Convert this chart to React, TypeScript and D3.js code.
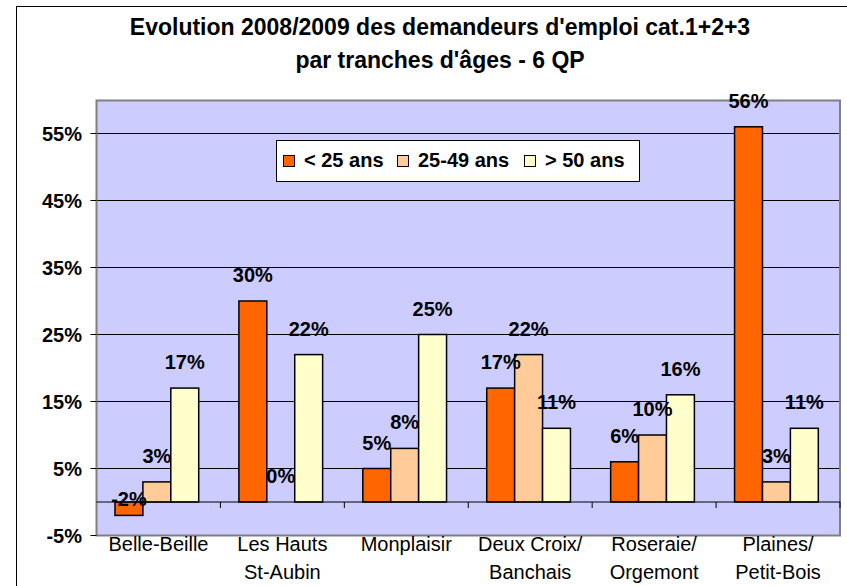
import { scaleBand, scaleLinear } from "d3";

const categories = [
    ["Belle-Beille"],
    ["Les Hauts", "St-Aubin"],
    ["Monplaisir"],
    ["Deux Croix/", "Banchais"],
    ["Roseraie/", "Orgemont"],
    ["Plaines/", "Petit-Bois"],
];
const seriesNames = ["< 25 ans", "25-49 ans", "> 50 ans"];
const under25 = [-2, 30, 5, 17, 6, 56];
const from25to49 = [3, 0, 8, 22, 10, 3];
const over50 = [17, 22, 25, 11, 16, 11];
const yTicks = [-5, 5, 15, 25, 35, 45, 55];
const titleLines = [
    "Evolution 2008/2009 des demandeurs d'emploi cat.1+2+3",
    "par tranches d'âges - 6 QP",
];

const COLORS = ["#FF6600", "#FFCC99", "#FFFFCC"];
const FONT = "'Liberation Sans', Arial, sans-serif";

export default function App() {
    const width = 847;
    const height = 586;
    const left = 96.5;
    const right = 840;
    const top = 100.5;
    const bottom = 535.5;

    const series = [under25, from25to49, over50];
    const keys = categories.map((c) => c.join(" "));

    const x = scaleBand().domain(keys).range([left, right]).padding(0);
    const inner = scaleBand()
        .domain(seriesNames)
        .range([0, x.bandwidth()])
        .paddingInner(0)
        .paddingOuter(0.72)
        .align(0.46);
    const y = scaleLinear().domain([-5, 60]).range([bottom, top - 0.5]);

    // legend item offsets from the first swatch
    const legendOffsets = [0, 114, 241];

    return (
        <div style={{ position: "absolute", left: 0, top: 0 }}>
            <svg width={width} height={height} style={{ display: "block", fontFamily: FONT }}>
                <rect x={0} y={0} width={width} height={height} fill="#fff" />
                {/* chart border, runs off the picture on the right and bottom */}
                <rect x={16.5} y={6.5} width={1000} height={1000} fill="none" stroke="#000" strokeWidth={1} />

                {/* title */}
                {titleLines.map((t, i) => (
                    <text
                        key={i}
                        x={440}
                        y={35 + i * 33}
                        textAnchor="middle"
                        fontSize={23}
                        fontWeight="bold"
                        fill="#000"
                    >
                        {t}
                    </text>
                ))}

                {/* plot area */}
                <rect x={left} y={top} width={right - left} height={bottom - top} fill="#CCCCFF" />
                {yTicks.slice(1).map((t) => (
                    <line key={t} x1={left} x2={right} y1={y(t)} y2={y(t)} stroke="#000" strokeWidth={1} />
                ))}
                <rect x={left} y={top} width={right - left} height={bottom - top} fill="none" stroke="#808080" strokeWidth={2} />

                {/* y axis ticks + labels */}
                {yTicks.map((t) => (
                    <g key={t}>
                        <line x1={left - 6} x2={left} y1={y(t)} y2={y(t)} stroke="#000" strokeWidth={1} />
                        <text x={82} y={y(t) + 7} textAnchor="end" fontSize={20} fontWeight="bold">
                            {t}%
                        </text>
                    </g>
                ))}

                {/* bars */}
                {series.map((vals, si) =>
                    vals.map((v, ci) => {
                        const bx = (x(keys[ci]) ?? 0) + (inner(seriesNames[si]) ?? 0);
                        const y0 = y(0);
                        const y1 = y(v);
                        return (
                            <rect
                                key={`${si}-${ci}`}
                                x={bx}
                                y={Math.min(y0, y1)}
                                width={inner.bandwidth()}
                                height={Math.abs(y1 - y0)}
                                fill={COLORS[si]}
                                stroke="#000"
                                strokeWidth={1.5}
                            />
                        );
                    }),
                )}

                {/* x axis line at 0 with category ticks */}
                <line x1={left} x2={right} y1={y(0)} y2={y(0)} stroke="#000" strokeWidth={1} />
                {keys.map((k, i) =>
                    i === 0 ? null : (
                        <line key={k} x1={x(k)} x2={x(k)} y1={y(0)} y2={y(0) + 6} stroke="#000" strokeWidth={1} />
                    ),
                )}
                <line x1={right} x2={right} y1={y(0)} y2={y(0) + 6} stroke="#000" strokeWidth={1} />

                {/* data labels */}
                {series.map((vals, si) =>
                    vals.map((v, ci) => {
                        const cx =
                            (x(keys[ci]) ?? 0) + (inner(seriesNames[si]) ?? 0) + inner.bandwidth() / 2;
                        return (
                            <text
                                key={`l${si}-${ci}`}
                                x={cx}
                                y={y(v) - (v < 0 ? 9 : 19)}
                                textAnchor="middle"
                                fontSize={20}
                                fontWeight="bold"
                            >
                                {v}%
                            </text>
                        );
                    }),
                )}

                {/* category labels */}
                {categories.map((lines, ci) => (
                    <text
                        key={keys[ci]}
                        x={(x(keys[ci]) ?? 0) + x.bandwidth() / 2}
                        textAnchor="middle"
                        fontSize={20}
                    >
                        {lines.map((l, li) => (
                            <tspan key={li} x={(x(keys[ci]) ?? 0) + x.bandwidth() / 2} y={551 + li * 28}>
                                {l}
                            </tspan>
                        ))}
                    </text>
                ))}

                {/* legend */}
                <rect x={276.5} y={140.5} width={363} height={41} fill="#fff" stroke="#000" strokeWidth={1} />
                {seriesNames.map((name, i) => (
                    <g key={name} transform={`translate(${283 + legendOffsets[i]},0)`}>
                        <rect x={0.5} y={155.5} width={11} height={11} fill={COLORS[i]} stroke="#000" strokeWidth={1} />
                        <text x={21} y={167} fontSize={20} fontWeight="bold">
                            {name}
                        </text>
                    </g>
                ))}
            </svg>
        </div>
    );
}
